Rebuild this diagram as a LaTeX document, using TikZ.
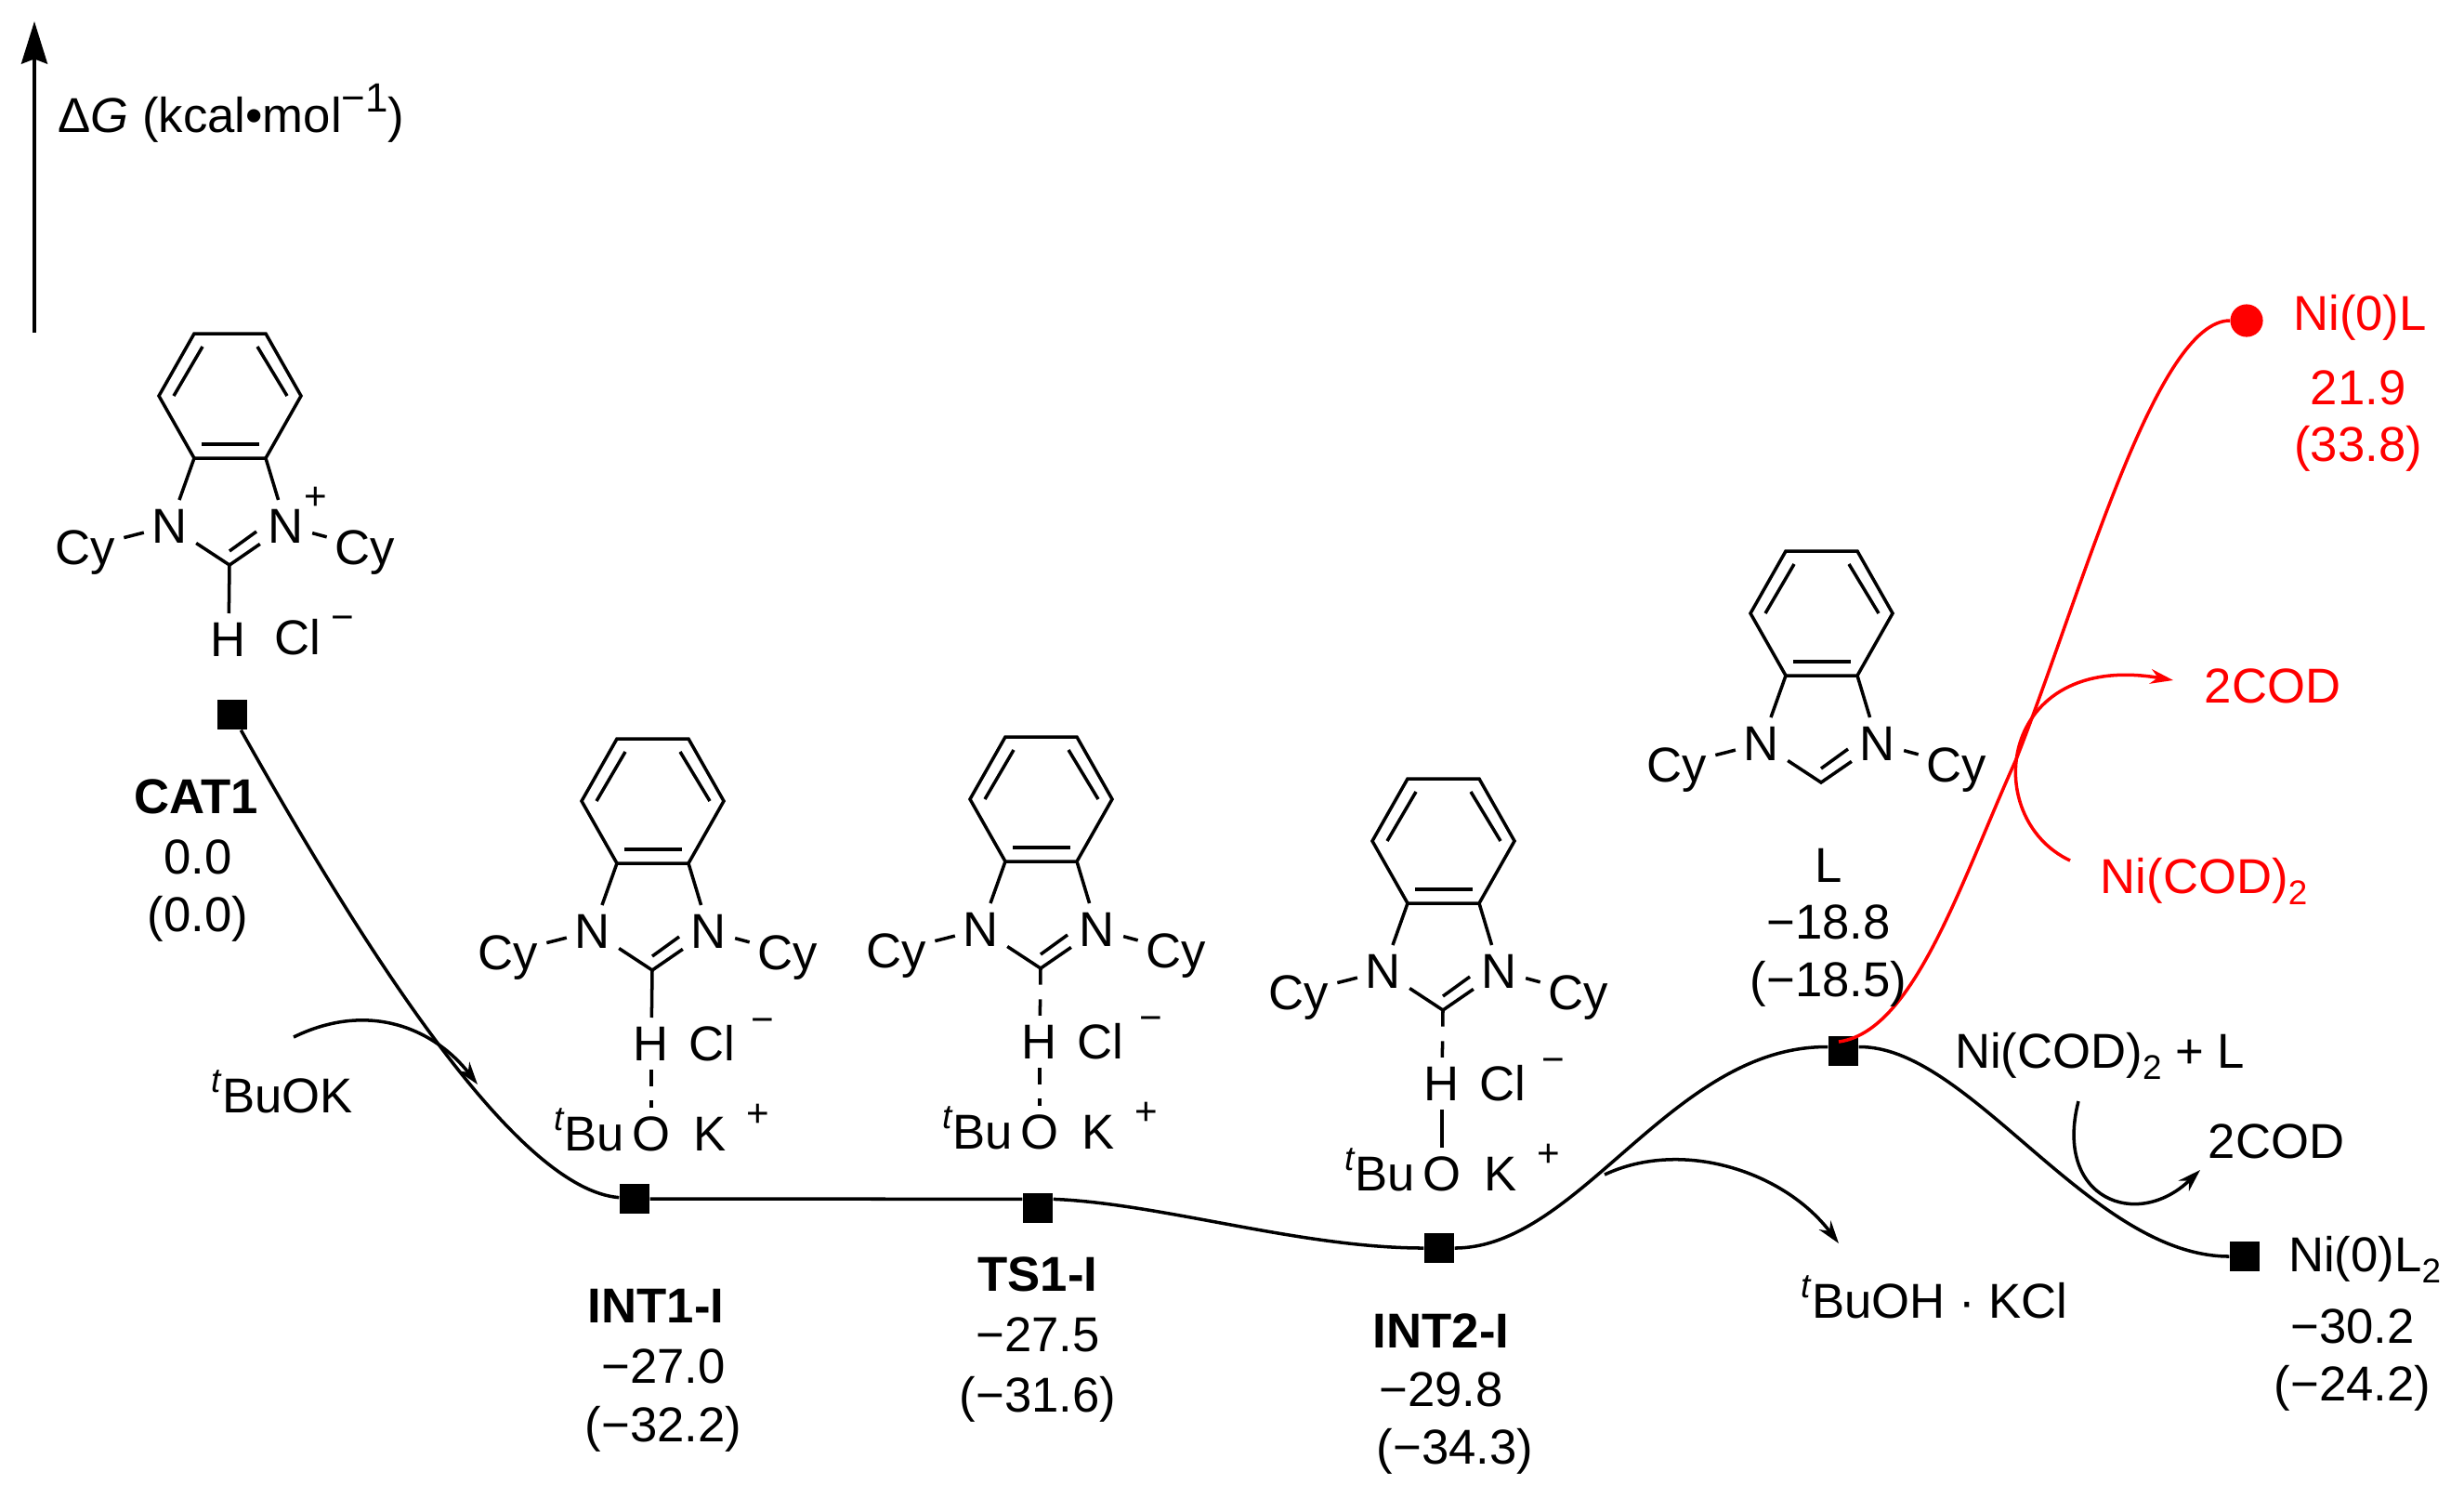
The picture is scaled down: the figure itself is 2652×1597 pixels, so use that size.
\documentclass[tikz,border=0pt]{standalone}
\usepackage{fontspec}
\setmainfont{Liberation Sans}
\usetikzlibrary{arrows.meta}

\newcommand{\upr}[1]{\raisebox{.42em}{\fontsize{21}{21}\selectfont #1}}
\newcommand{\lwr}[1]{\raisebox{-.22em}{\fontsize{21}{21}\selectfont #1}}

\tikzset{
  lbl/.style={font=\fontsize{30}{34}\selectfont, inner sep=5pt, text height=21.5pt, text depth=0pt},
  boldlbl/.style={lbl, font=\fontsize{30}{34}\selectfont\bfseries},
  redlbl/.style={lbl, text=red},
  chg/.style={lbl, scale=.8},
  blacksq/.style={fill=black, inner sep=0pt, minimum size=18.6pt},
  bond/.style={line width=2pt},
  dashbond/.style={line width=2pt, dash pattern=on 10pt off 9pt},
  pes/.style={line width=2pt},
  rxnarrow/.style={line width=2pt, -{Stealth[length=14pt,width=9pt]}},
}

% benzimidazole ring, carbene carbon at (#2,#3)
\newcommand{\benzring}[3]{
\begin{scope}[shift={(#2,#3)}]
\coordinate (#1c) at (0,0);
\coordinate (#1a1) at (-38,-249);
\coordinate (#1a2) at (39,-249);
\coordinate (#1a3) at (77,-182);
\coordinate (#1a4) at (39,-115);
\coordinate (#1a5) at (-38,-115);
\coordinate (#1a6) at (-76,-182);
\node[lbl] (#1nl) at (-64,-42) {N};
\node[lbl] (#1nr) at (61,-42) {N};
\node[lbl] (#1cl) at (-155,-19) {Cy};
\node[lbl] (#1cr) at (146,-19) {Cy};
\draw[bond] (#1a1)--(#1a2)--(#1a3)--(#1a4)--(#1a5)--(#1a6)--cycle;
\draw[bond] (-29,-235)--(-60,-182);
\draw[bond] (30,-235)--(62,-182);
\draw[bond] (-30,-130)--(32,-130);
\draw[bond] (#1a5)--(#1nl);
\draw[bond] (#1a4)--(#1nr);
\draw[bond] (#1nl)--(#1c)--(#1nr);
\draw[bond] (0,-15)--(29,-36);
\draw[bond] (#1cl)--(#1nl);
\draw[bond] (#1nr)--(#1cr);
\end{scope}
}

% H, Cl-, tBuO and K+ below the ring
\newcommand{\ionpair}[5]{
\begin{scope}[shift={(#2,#3)}]
\node[lbl] (#1h) at (-1,79) {H};
\node[lbl] (#1cli) at (64,79) {Cl};
\node[chg] (#1mi) at (119,52) {−};
\node[lbl] (#1o) at (-1,176) {O};
\node[lbl] (#1k) at (62,176) {K};
\node[chg] (#1pl) at (114,153) {+};
\node[lbl] (#1bu) at (-68,176) {\upr{\textit{t}}Bu};
\draw[#4] (#1c)--(#1h);
\draw[#5] (#1h)--(#1o);
\end{scope}
}

\begin{document}
\begin{tikzpicture}[x=.02cm,y=-.02cm]
\useasboundingbox (0,0) rectangle (2652,1597);

% axis
\coordinate (axb) at (37,358);
\coordinate (axt) at (37,23);
\draw[line width=2pt,-{Stealth[length=26pt,width=16pt,inset=3pt]}] (axb)--(axt);
\node[lbl,anchor=west,inner sep=0pt] (axlbl) at (62,124) {Δ\textit{G} (kcal•mol\raisebox{.42em}{\fontsize{25}{25}\selectfont −1})};

% structures
\benzring{ca}{247}{608}
\node[lbl] (cah) at (246,688) {H};
\node[lbl] (cacl) at (320,686) {Cl};
\node[chg] (cami) at (369,663) {−};
\node[chg] (capl) at (340,533) {+};
\draw[bond] (cac)--(cah);

\benzring{ia}{702}{1044}
\ionpair{ia}{702}{1044}{bond}{dashbond}
\benzring{ts}{1120}{1042}
\ionpair{ts}{1120}{1042}{dashbond}{dashbond}
\benzring{ib}{1553}{1087}
\ionpair{ib}{1553}{1087}{dashbond}{bond}
\benzring{li}{1960}{842}

% energy points
\node[blacksq] (cat1) at (250,769) {};
\node[blacksq] (int1) at (683,1290) {};
\node[blacksq] (ts1) at (1117,1300) {};
\node[blacksq] (int2) at (1549,1343) {};
\node[blacksq] (lig) at (1984,1131) {};
\node[blacksq] (nil2) at (2416,1352) {};
\node[circle,fill=red,inner sep=0pt,minimum size=20pt] (nil) at (2418,345) {};

% profile
\draw[pes] (cat1) .. controls (405,1045) and (560,1280) .. (int1);
\draw[pes] (int1.east) -- (ts1.150);
\draw[pes] (ts1.30) .. controls (1250,1295) and (1400,1343) .. (int2);
\draw[pes] (int2) .. controls (1700,1343) and (1800,1125) .. (lig.165);
\draw[pes] (lig.15) .. controls (2120,1125) and (2250,1352) .. (nil2);
\coordinate (lred) at (1979,1121);
\coordinate (rmid) at (2170,817);
\draw[pes,red] (lred) .. controls (2060,1110) and (2110,950) .. (rmid) .. controls (2240,640) and (2320,345) .. (nil);

% side arrows
\coordinate (bka) at (316,1116);
\coordinate (bkb) at (514,1167);
\draw[rxnarrow] (bka) .. controls (400,1075) and (470,1110) .. (bkb);
\coordinate (kca) at (1727,1264);
\coordinate (kcb) at (1979,1338);
\draw[rxnarrow] (kca) .. controls (1810,1225) and (1920,1260) .. (kcb);
\coordinate (coa) at (2237,1185);
\coordinate (cob) at (2368,1259);
\draw[rxnarrow] (coa) .. controls (2210,1290) and (2300,1325) .. (cob);
\coordinate (rda) at (2228,926);
\coordinate (rdb) at (2339,732);
\draw[rxnarrow,red] (rda) .. controls (2130,880) and (2150,700) .. (rdb);

% labels
\node[boldlbl] (cat1a) at (211,857) {CAT1};
\node[lbl] (cat1b) at (213,922) {0.0};
\node[lbl] (cat1c) at (213,984) {(0.0)};
\node[lbl] (bkok) at (304,1179) {\upr{\textit{t}}BuOK};
\node[boldlbl] (int1a) at (706,1405) {INT1-I};
\node[lbl] (int1b) at (714,1470) {−27.0};
\node[lbl] (int1c) at (714,1533) {(−32.2)};
\node[boldlbl] (ts1a) at (1117,1371) {TS1-I};
\node[lbl] (ts1b) at (1117,1436) {−27.5};
\node[lbl] (ts1c) at (1117,1501) {(−31.6)};
\node[boldlbl] (int2a) at (1551,1432) {INT2-I};
\node[lbl] (int2b) at (1551,1495) {−29.8};
\node[lbl] (int2c) at (1566,1557) {(−34.3)};
\node[lbl] (liga) at (1968,931) {L};
\node[lbl] (ligb) at (1968,992) {−18.8};
\node[lbl] (ligc) at (1968,1054) {(−18.5)};
\node[lbl] (mix) at (2260,1131) {Ni(COD)\lwr{2} + L};
\node[lbl] (cod) at (2450,1228) {2COD};
\node[lbl] (bkcl) at (2082,1400) {\upr{\textit{t}}BuOH · KCl};
\node[lbl] (nil2a) at (2545,1350) {Ni(0)L\lwr{2}};
\node[lbl] (nil2b) at (2532,1427) {−30.2};
\node[lbl] (nil2c) at (2532,1489) {(−24.2)};
\node[redlbl] (cod2) at (2446,738) {2COD};
\node[redlbl] (nicod) at (2372,943) {Ni(COD)\lwr{2}};
\node[redlbl] (nila) at (2540,337) {Ni(0)L};
\node[redlbl] (nilb) at (2538,417) {21.9};
\node[redlbl] (nilc) at (2538,478) {(33.8)};
\end{tikzpicture}
\end{document}
